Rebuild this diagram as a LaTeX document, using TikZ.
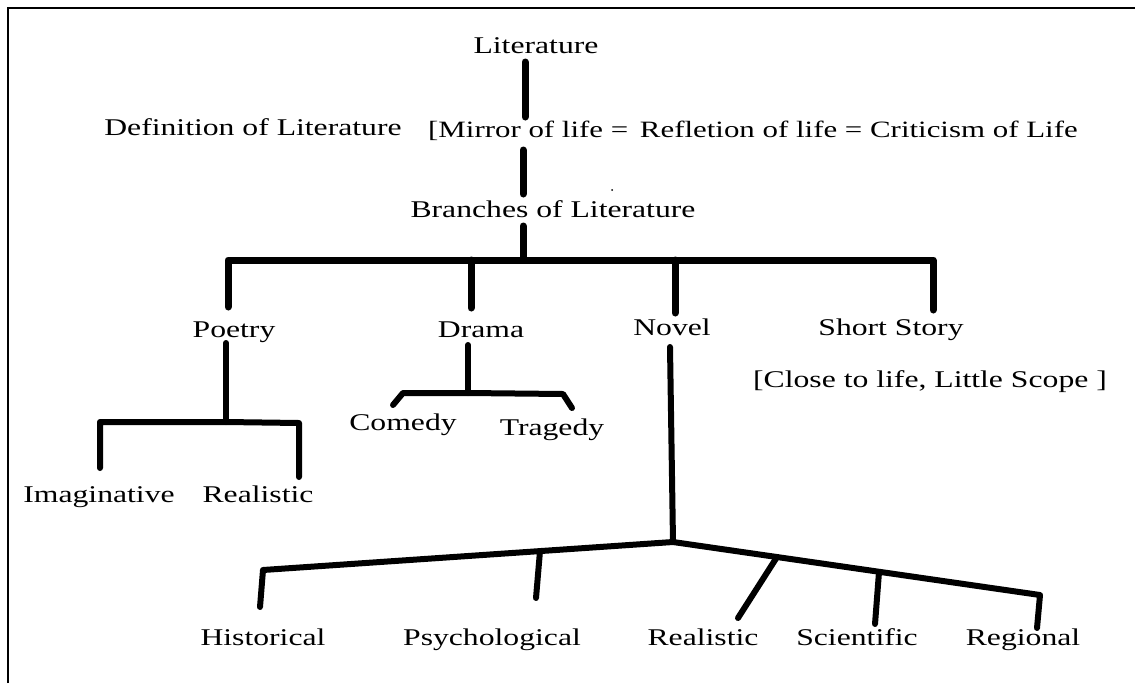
\documentclass[tikz,border=0pt]{standalone}
\usepackage{fontspec}
\setmainfont{Liberation Serif}[FakeStretch=1.32]
\begin{document}
\begin{tikzpicture}[x=1pt,y=-1pt,
  lbl/.style={anchor=base,inner sep=0pt,font=\fontsize{24}{28}\selectfont},
  heavy/.style={line width=7pt,line cap=round,line join=round},
  branch/.style={line width=6pt,line cap=round,line join=round},
  frame/.style={line width=2pt}]
\useasboundingbox (0,0) rectangle (1135,683);
\fill[white] (0,0) rectangle (1135,683);
\draw[frame] (8,683) -- (8,8) -- (1135,8);

% texts
\node[lbl] (lit) at (536,53) {Literature};
\node[lbl] (def) at (253,135) {Definition of Literature};
\node[lbl,anchor=base west,font=\fontsize{23.4}{28}\selectfont] (mir) at (428,137) {[Mirror of life =\, Refletion of life = Criticism of Life};
\node[lbl] (bra) at (553,217) {Branches of Literature};
\node[lbl] (poe) at (234,337) {Poetry};
\node[lbl] (dra) at (481,337) {Drama};
\node[lbl] (nov) at (672,335) {Novel};
\node[lbl] (sho) at (891,335) {Short Story};
\node[lbl] (clo) at (930,387) {[Close to life, Little Scope ]};
\node[lbl] (com) at (403,430) {Comedy};
\node[lbl] (tra) at (552,435) {Tragedy};
\node[lbl] (ima) at (99,502) {Imaginative};
\node[lbl] (rea) at (258,502) {Realistic};
\node[lbl] (his) at (263,645) {Historical};
\node[lbl] (psy) at (492,645) {Psychological};
\node[lbl] (rea2) at (703,645) {Realistic};
\node[lbl] (sci) at (857,645) {Scientific};
\node[lbl] (reg) at (1023,645) {Regional};

% junction points
\coordinate (t1) at (525,62);   \coordinate (t2) at (525,117);
\coordinate (t3) at (523,150);  \coordinate (t4) at (523,194);
\coordinate (t5) at (523,226);  \coordinate (t6) at (523,260);
\coordinate (bl) at (228,260);  \coordinate (br) at (933,260);
\coordinate (bd) at (471,260);  \coordinate (bn) at (675,260);
\coordinate (poeUp) at (228,307); \coordinate (draUp) at (471,308);
\coordinate (novUp) at (675,313); \coordinate (shoUp) at (933,310);
% poetry
\coordinate (p0) at (226,343); \coordinate (p1) at (226,422);
\coordinate (pl) at (100,422); \coordinate (pr) at (299,423);
\coordinate (imaUp) at (100,468); \coordinate (reaUp) at (299,477);
% drama
\coordinate (d0) at (468,345); \coordinate (d1) at (468,393);
\coordinate (dl) at (403,393); \coordinate (dr) at (563,394);
\coordinate (comUp) at (393,405); \coordinate (traUp) at (572,408);
% novel
\coordinate (n0) at (670,347); \coordinate (nj) at (673,542);
\coordinate (nl) at (263,570); \coordinate (nr) at (1040,595);
\coordinate (psyJ) at (540,551); \coordinate (rea2J) at (777,557);
\coordinate (sciJ) at (879,572);
\coordinate (hisUp) at (260,607); \coordinate (psyUp) at (536,598);
\coordinate (rea2Up) at (738,618); \coordinate (sciUp) at (875,624);
\coordinate (regUp) at (1037,628);

% connectors
\draw[heavy] (t1) -- (t2);
\draw[heavy] (t3) -- (t4);
\draw[heavy] (t5) -- (t6);
\draw[heavy] (poeUp) -- (bl) -- (br) -- (shoUp);
\draw[heavy] (bd) -- (draUp);
\draw[heavy] (bn) -- (novUp);

\draw[branch] (p0) -- (p1);
\draw[branch] (imaUp) -- (pl) -- (p1) -- (pr) -- (reaUp);

\draw[branch] (d0) -- (d1);
\draw[branch] (comUp) -- (dl) -- (d1) -- (dr) -- (traUp);

\draw[branch] (n0) -- (nj);
\draw[branch] (hisUp) -- (nl) -- (nj) -- (nr) -- (regUp);
\draw[branch] (psyJ) -- (psyUp);
\draw[branch] (rea2J) -- (rea2Up);
\draw[branch] (sciJ) -- (sciUp);

% stray dot
\fill (612,190) circle (1pt);
\end{tikzpicture}
\end{document}
